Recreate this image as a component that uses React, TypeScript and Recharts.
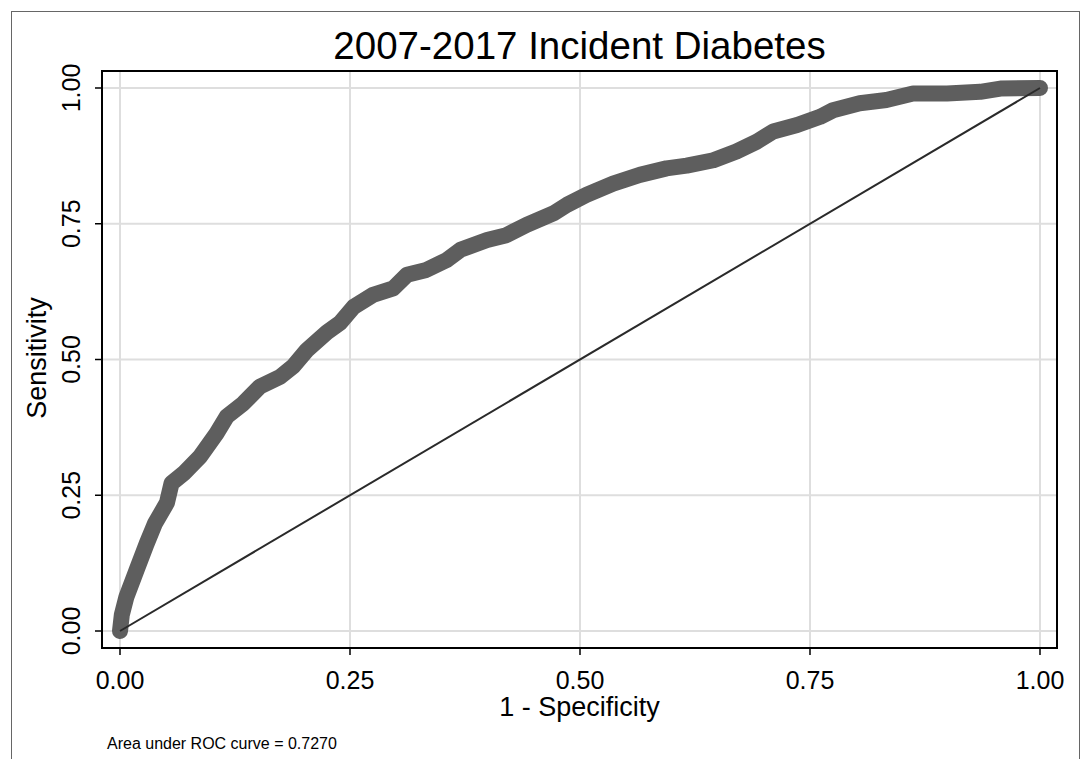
import React from "react";
import { LineChart, Line, XAxis, YAxis, CartesianGrid, ReferenceArea } from "recharts";

// ROC curve points (1 - specificity, sensitivity)
const fprValues = [
  0, 0.002, 0.007, 0.018, 0.029, 0.038, 0.051, 0.056, 0.069, 0.087, 0.105, 0.116, 0.134, 0.152,
  0.174, 0.188, 0.203, 0.225, 0.239, 0.254, 0.275, 0.297, 0.312, 0.333, 0.355, 0.37, 0.399, 0.42,
  0.442, 0.471, 0.486, 0.507, 0.536, 0.565, 0.594, 0.616, 0.645, 0.67, 0.692, 0.71, 0.736, 0.761,
  0.775, 0.804, 0.833, 0.862, 0.899, 0.935, 0.957, 1.0,
];
const tprValues = [
  0, 0.03, 0.063, 0.112, 0.161, 0.198, 0.236, 0.272, 0.29, 0.321, 0.364, 0.395, 0.419, 0.45,
  0.468, 0.487, 0.517, 0.55, 0.567, 0.597, 0.619, 0.631, 0.656, 0.665, 0.683, 0.702, 0.72, 0.729,
  0.748, 0.769, 0.785, 0.803, 0.824, 0.84, 0.852, 0.857, 0.867, 0.883, 0.901, 0.92, 0.932, 0.947,
  0.959, 0.972, 0.978, 0.99, 0.99, 0.993, 0.999, 1.0,
];
const refFpr = [0, 1];
const refTpr = [0, 1];
const tickValues = [0, 0.25, 0.5, 0.75, 1];
const tickLabels = ["0.00", "0.25", "0.50", "0.75", "1.00"];

const titleText = "2007-2017 Incident Diabetes";
const xTitle = "1 - Specificity";
const yTitle = "Sensitivity";
const noteText = "Area under ROC curve = 0.7270";

const rocData = fprValues.map((x, i) => ({ x, y: tprValues[i] }));
const diagData = refFpr.map((x, i) => ({ x, d: refTpr[i] }));

const FONT = "'Liberation Sans', Arial, Helvetica, sans-serif";
const X_DOMAIN: [number, number] = [-0.01957, 1.01848];
const Y_DOMAIN: [number, number] = [-0.0313, 1.0313];

const labelFor = (v: number) => {
  const i = tickValues.indexOf(v);
  return i >= 0 ? tickLabels[i] : String(v);
};

const XTick = (props: any) => {
  const { x, y, payload } = props;
  return (
    <text x={x} y={y + 32} textAnchor="middle" fontFamily={FONT} fontSize={25} fill="#000">
      {labelFor(payload.value)}
    </text>
  );
};

const YTick = (props: any) => {
  const { x, y, payload } = props;
  const bx = x - 13;
  return (
    <text
      x={bx}
      y={y}
      transform={`rotate(-90, ${bx}, ${y})`}
      textAnchor="middle"
      fontFamily={FONT}
      fontSize={25}
      fill="#000"
    >
      {labelFor(payload.value)}
    </text>
  );
};

export default function App() {
  return (
    <div style={{ position: "absolute", left: 0, top: 0, width: 1090, height: 759, background: "#fff" }}>
      <div
        style={{
          position: "absolute",
          left: 11,
          top: 11,
          width: 1069,
          height: 760,
          border: "1.5px solid #666",
          boxSizing: "border-box",
        }}
      />
      <LineChart
        width={1090}
        height={759}
        data={rocData}
        margin={{ top: 71, right: 33, bottom: 0, left: 0 }}
        style={{ position: "absolute", left: 0, top: 0 }}
      >
        <CartesianGrid stroke="#dedede" strokeWidth={2} />
        <XAxis
          dataKey="x"
          type="number"
          domain={X_DOMAIN}
          ticks={tickValues}
          allowDataOverflow
          height={111}
          tickSize={7}
          tickLine={{ stroke: "#000", strokeWidth: 1.5 }}
          axisLine={{ stroke: "#000", strokeWidth: 2 }}
          tick={<XTick />}
          interval={0}
        />
        <YAxis
          type="number"
          domain={Y_DOMAIN}
          ticks={tickValues}
          allowDataOverflow
          width={102}
          tickSize={7}
          tickLine={{ stroke: "#000", strokeWidth: 1.5 }}
          axisLine={{ stroke: "#000", strokeWidth: 2 }}
          tick={<YTick />}
          interval={0}
        />
        <ReferenceArea
          x1={X_DOMAIN[0]}
          x2={X_DOMAIN[1]}
          y1={Y_DOMAIN[0]}
          y2={Y_DOMAIN[1]}
          fill="none"
          fillOpacity={0}
          stroke="#000"
          strokeWidth={2}
          ifOverflow="visible"
        />
        <Line
          data={rocData}
          dataKey="y"
          type="linear"
          stroke="#5e5e5e"
          strokeWidth={16}
          strokeLinecap="round"
          strokeLinejoin="round"
          dot={false}
          activeDot={false}
          isAnimationActive={false}
        />
        <Line
          data={diagData}
          dataKey="d"
          type="linear"
          stroke="#2a2a2a"
          strokeWidth={2}
          dot={false}
          activeDot={false}
          isAnimationActive={false}
        />
        <text x={579.5} y={59} textAnchor="middle" fontFamily={FONT} fontSize={38.5} fill="#000">
          {titleText}
        </text>
        <text x={579.5} y={716} textAnchor="middle" fontFamily={FONT} fontSize={27} fill="#000">
          {xTitle}
        </text>
        <text
          x={46}
          y={358}
          transform="rotate(-90, 46, 358)"
          textAnchor="middle"
          fontFamily={FONT}
          fontSize={27}
          fill="#000"
        >
          {yTitle}
        </text>
        <text x={107} y={749} fontFamily={FONT} fontSize={16} fill="#000">
          {noteText}
        </text>
      </LineChart>
    </div>
  );
}
